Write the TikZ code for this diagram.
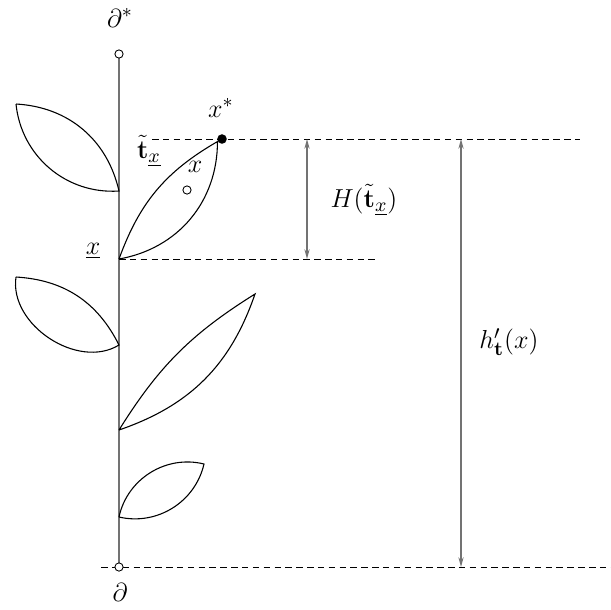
\documentclass[tikz,border=0pt]{standalone}
\usetikzlibrary{arrows.meta,positioning}
\begin{document}
\begin{tikzpicture}[x=0.0162cm,y=-0.0162cm,
  leaf/.style={draw=black,line width=0.5pt},
  stem/.style={draw=black!55,line width=0.6pt},
  hole/.style={circle,draw,fill=white,inner sep=0pt,minimum size=3.8pt,line width=0.4pt},
  dot/.style={circle,fill,inner sep=0pt,minimum size=4.4pt},
  level/.style={dashed,dash pattern=on 3pt off 2pt,line width=0.4pt},
  lab/.style={font=\fontsize{12.4}{15}\selectfont,inner sep=1pt},
  gauge/.style={draw=black!55,line width=0.6pt,{Stealth[length=4.5pt,width=2.4pt]}-{Stealth[length=4.5pt,width=2.4pt]}}]
\useasboundingbox (0,0) rectangle (611,609);

% stem
\coordinate (sT) at (119,54);
\coordinate (sB) at (119,567);
\draw[stem] (sT) -- (sB);

% levels
\coordinate (tL) at (152,139);
\coordinate (tR) at (580,139);
\coordinate (xu) at (119,259);
\coordinate (mR) at (376,259);
\coordinate (bL) at (101,567);
\coordinate (bR) at (611,567);
\draw[level] (tL) -- (tR);
\draw[level] (xu) -- (mR);
\draw[level] (bL) -- (bR);

% leaves
\coordinate (a1) at (119,191); \coordinate (t1) at (16,104);
\draw[leaf] (t1) to[bend left=37] (a1) to[bend left=44] (t1);
\node[dot] (xs) at (222,139) {};
\draw[leaf] (xu) to[bend left=20] (xs) to[bend left=40] (xu);
\coordinate (a3) at (119,345); \coordinate (t3) at (16,277);
\draw[leaf] (t3) to[bend left=30] (a3) to[bend left=65] (t3);
\coordinate (a4) at (119,430); \coordinate (t4) at (255,294);
\draw[leaf] (a4) to[bend left=13] (t4) to[bend left=26] (a4);
\coordinate (a5) at (119,517); \coordinate (t5) at (204,464);
\draw[leaf] (a5) to[bend left=46] (t5) to[bend left=45] (a5);

\node[hole] (rT) at (sT) {};
\node[hole] (rB) at (sB) {};
\node[hole] (px) at (187,190) {};

% heights
\coordinate (hA) at (307,139); \coordinate (hB) at (307,259);
\draw[gauge] (hA) -- (hB);
\coordinate (gA) at (461,139); \coordinate (gB) at (461,567);
\draw[gauge] (gA) -- (gB);

% labels
\node[lab] (dstar) at (120,18) {$\partial^*$};
\node[lab] (droot) at (120,592) {$\partial$};
\node[lab] (lxs) at (221,108) {$x^*$};
\node[lab] (ltx) at (149,151) {$\tilde{\mathbf{t}}_{\underline{x}}$};
\node[lab] (lx) at (195,167) {$x$};
\node[lab] (lxu) at (93,251) {$\underline{x}$};
\node[lab] (lH) at (364,200) {$H(\tilde{\mathbf{t}}_{\underline{x}})$};
\node[lab] (lh) at (509,342) {$h'_{\mathbf{t}}(x)$};
\end{tikzpicture}
\end{document}
